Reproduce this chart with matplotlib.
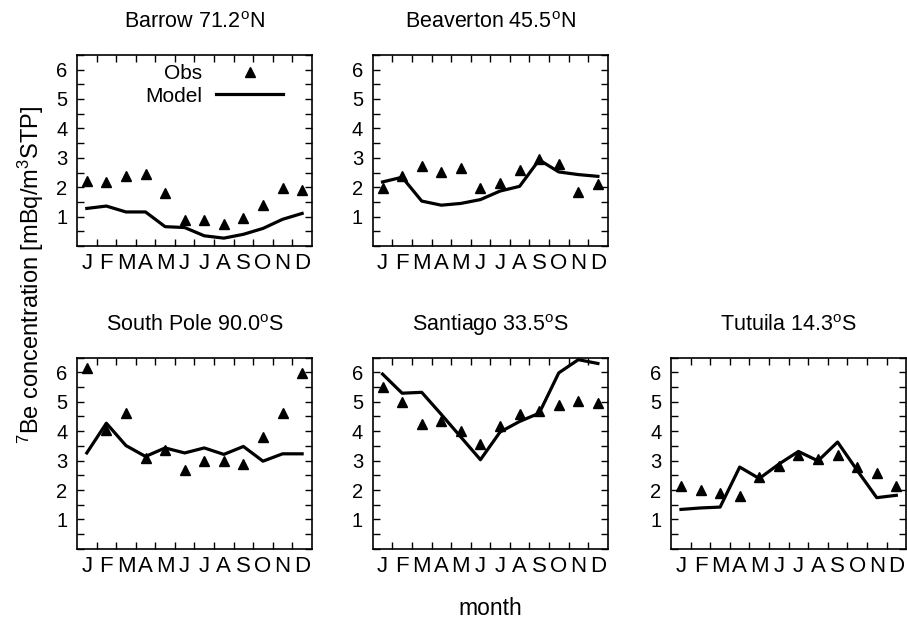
import numpy as np
import matplotlib
matplotlib.use('Agg')
import matplotlib.pyplot as plt
from matplotlib.ticker import MultipleLocator, FixedLocator

plt.rcParams['font.family'] = ['Liberation Sans', 'DejaVu Sans']
plt.rcParams['mathtext.fontset'] = 'custom'
plt.rcParams['mathtext.rm'] = 'Liberation Sans'
plt.rcParams['mathtext.it'] = 'Liberation Sans'

months = np.arange(1, 13)
month_labels = ['J', 'F', 'M', 'A', 'M', 'J', 'J', 'A', 'S', 'O', 'N', 'D']

# station names (title text)
titles = ['Barrow 71.2$^{\\mathrm{o}}$N', 'Beaverton 45.5$^{\\mathrm{o}}$N',
          'South Pole 90.0$^{\\mathrm{o}}$S', 'Santiago 33.5$^{\\mathrm{o}}$S',
          'Tutuila 14.3$^{\\mathrm{o}}$S']

# observations
obs_barrow = [2.20, 2.18, 2.37, 2.46, 1.81, 0.90, 0.88, 0.74, 0.96, 1.38, 1.96, 1.90]
obs_beaverton = [1.98, 2.37, 2.73, 2.51, 2.67, 1.97, 2.15, 2.60, 2.95, 2.79, 1.83, 2.12]
obs_southpole = [6.15, 4.05, 4.63, 3.10, 3.37, 2.69, 2.99, 2.98, 2.90, 3.80, 4.63, 5.98]
obs_santiago = [5.51, 5.00, 4.23, 4.33, 3.99, 3.58, 4.19, 4.59, 4.70, 4.89, 5.02, 4.97]
obs_tutuila = [2.13, 1.99, 1.90, 1.78, 2.44, 2.81, 3.20, 3.07, 3.20, 2.78, 2.59, 2.15]

# model
mod_barrow = [1.28, 1.36, 1.16, 1.16, 0.66, 0.63, 0.35, 0.27, 0.40, 0.60, 0.91, 1.11]
mod_beaverton = [2.18, 2.34, 1.53, 1.39, 1.45, 1.58, 1.87, 2.03, 2.93, 2.52, 2.43, 2.37]
mod_southpole = [3.26, 4.27, 3.51, 3.14, 3.43, 3.26, 3.43, 3.21, 3.48, 2.98, 3.23, 3.23]
mod_santiago = [5.94, 5.29, 5.32, 4.57, 3.80, 3.03, 3.97, 4.33, 4.61, 5.98, 6.43, 6.30]
mod_tutuila = [1.34, 1.39, 1.42, 2.78, 2.39, 2.88, 3.31, 2.99, 3.63, 2.67, 1.74, 1.82]

obs_all = [obs_barrow, obs_beaverton, obs_southpole, obs_santiago, obs_tutuila]
mod_all = [mod_barrow, mod_beaverton, mod_southpole, mod_santiago, mod_tutuila]

fig = plt.figure(figsize=(9.07, 6.23), dpi=100)

W, H = 0.259, 0.307
positions = [(0.0849, 0.605), (0.411, 0.605),
             (0.0849, 0.119), (0.411, 0.119), (0.740, 0.119)]

for i in range(5):
    ax = fig.add_axes([positions[i][0], positions[i][1], W, H])
    l1, = ax.plot(months, obs_all[i], '^', color='black', markersize=6.8,
                  linestyle='none', label='Obs')
    l2, = ax.plot(months, mod_all[i], '-', color='black', linewidth=2.3,
                  label='Model')
    ax.set_xlim(0.5, 12.5)
    ax.set_ylim(0, 6.5)
    ax.xaxis.set_major_locator(FixedLocator(months))
    ax.set_xticklabels(month_labels)
    ax.xaxis.set_minor_locator(FixedLocator(np.arange(1.5, 12, 1)))
    ax.yaxis.set_major_locator(FixedLocator([1, 2, 3, 4, 5, 6]))
    ax.yaxis.set_minor_locator(MultipleLocator(0.5))
    ax.tick_params(axis='x', which='major', length=0, pad=5, labelsize=16)
    ax.tick_params(axis='x', which='minor', length=5, direction='in',
                   top=True, bottom=True, width=1)
    ax.tick_params(axis='y', which='both', length=5, direction='in',
                   left=True, right=True, width=1, pad=7, labelsize=14.5)
    for s in ax.spines.values():
        s.set_linewidth(1.2)
    ax.set_title(titles[i], fontsize=15.5, pad=19)
    if i == 0:
        ax.legend(handles=[l1, l2], loc='upper right', frameon=False,
                  markerfirst=False, fontsize=15, handlelength=3.2,
                  borderaxespad=0.0, borderpad=0.0, handletextpad=0.7,
                  labelspacing=0.15, bbox_to_anchor=(0.877, 0.95))

fig.text(0.034, 0.558, '$^7$Be concentration [mBq/m$^3$STP]', rotation=90,
         ha='center', va='center', fontsize=17)
fig.text(0.541, 0.024, 'month', ha='center', va='center', fontsize=16.5)

plt.savefig('out.png', dpi=100)
